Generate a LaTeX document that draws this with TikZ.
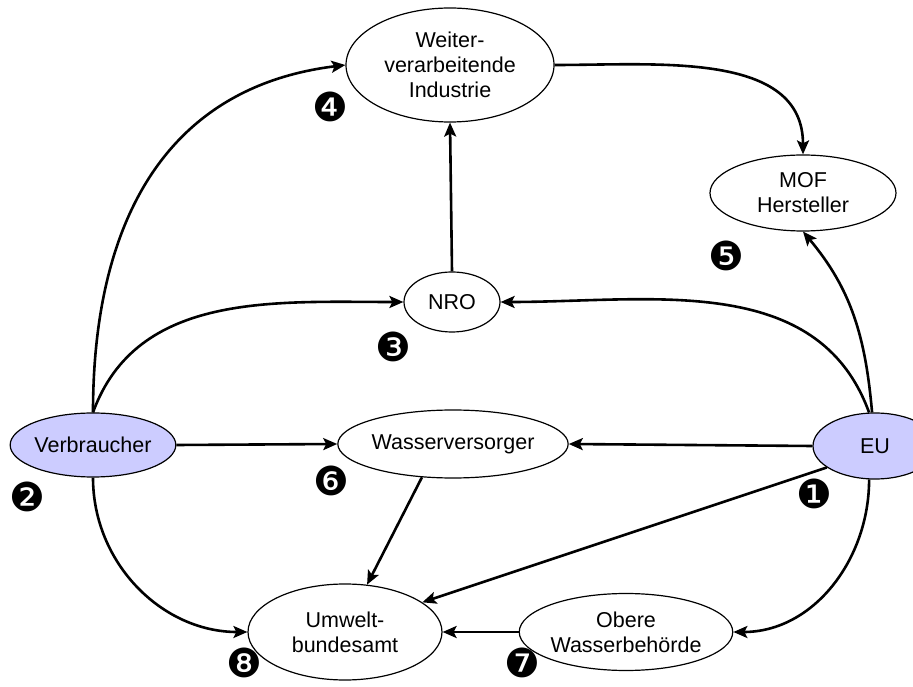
\documentclass[tikz,border=0pt]{standalone}
\usepackage{fontspec}
\setmainfont{Liberation Sans}
\newfontfamily\dingfont{DejaVu Sans}
\usetikzlibrary{shapes.geometric,arrows.meta}
\definecolor{lav}{HTML}{CCCCFF}
\tikzset{
  ent/.style={ellipse,draw,line width=1.2pt,inner sep=0pt,align=center,
    font=\fontsize{21.5}{25}\selectfont},
  conn/.style={line width=2.6pt,-{Stealth[length=14pt,width=12pt,inset=3pt]}},
  num/.style={inner sep=0pt,font=\dingfont\fontsize{40}{40}\selectfont}
}
\begin{document}
\begin{tikzpicture}[x=1pt,y=1pt]
\useasboundingbox (0,0) rectangle (913,686);
\node[ent,minimum width=208,minimum height=114] (weiter) at (450,621) {Weiter-\\verarbeitende\\Industrie};
\node[ent,minimum width=186,minimum height=76] (mof) at (803,493) {MOF\\Hersteller};
\node[ent,minimum width=96,minimum height=60] (nro) at (452,384) {NRO};
\node[ent,fill=lav,minimum width=152,minimum height=64] (verb) at (93,241) {Verbraucher};
\node[ent,fill=lav,minimum width=124,minimum height=66] (eu) at (875,240) {EU};
\node[ent,minimum width=222,minimum height=68] (wasser) at (453,242) {Wasserversorger};
\node[ent,minimum width=194,minimum height=96] (umwelt) at (345,54) {Umwelt-\\bundesamt};
\node[ent,minimum width=206,minimum height=77] (obere) at (626,54) {Obere\\Wasserbehörde};

\draw[conn] (verb.north) to[out=90,in=187,looseness=1.1] (weiter.west);
\draw[conn] (verb.north) to[out=70,in=180] (nro.west);
\draw[conn] (verb.east) -- (wasser.west);
\draw[conn] (verb.south) to[out=-90,in=180] (umwelt.west);
\draw[conn] (wasser.227) -- (umwelt.65);
\draw[conn] (eu.204) -- (umwelt.21);
\draw[conn] (eu.west) -- (wasser.east);
\draw[conn] (eu.260) to[out=-90,in=0] (obere.east);
\draw[conn] (obere.west) -- (umwelt.east);
\draw[conn] (eu.100) to[out=110,in=0] (nro.east);
\draw[conn] (eu.95) to[out=95,in=-50] (mof.south);
\draw[conn] (nro.north) -- (weiter.south);
\draw[conn] (weiter.east) to[out=0,in=90] (mof.north);

\node[num] (n1) at (814,192) {❶};
\node[num] (n2) at (27,189) {❷};
\node[num] (n3) at (393,339) {❸};
\node[num] (n4) at (330,579) {❹};
\node[num] (n5) at (726,430) {❺};
\node[num] (n6) at (331,205) {❻};
\node[num] (n7) at (522,23) {❼};
\node[num] (n8) at (244,23) {❽};
\end{tikzpicture}
\end{document}
